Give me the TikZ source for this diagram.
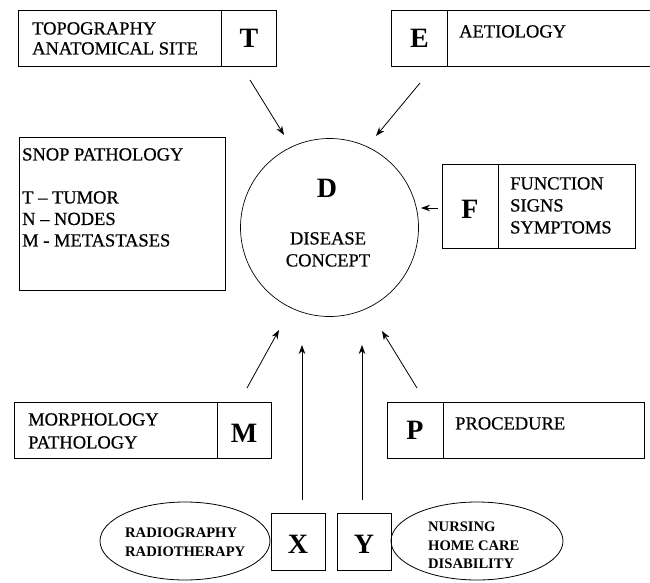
\documentclass[tikz,border=0pt]{standalone}
\usepackage{fontspec}
\setmainfont{Liberation Serif}
\newfontfamily\heavyserif{Liberation Serif}[FakeBold=0.6, Ligatures=TeX]
\usetikzlibrary{arrows.meta,shapes.geometric}

\begin{document}
\begin{tikzpicture}[x=1pt,y=-1pt,
  cell/.style={draw, line width=0.9pt, inner sep=0pt, anchor=north west},
  letter/.style={font=\fontsize{28}{28}\selectfont\bfseries, inner sep=0pt},
  lbl/.style={font=\heavyserif\fontsize{18.5}{20}\selectfont, align=left, inner sep=0pt, anchor=north west},
  elbl/.style={font=\fontsize{14.6}{18.5}\selectfont\bfseries, align=left, inner sep=0pt, anchor=north west},
  oval/.style={draw, ellipse, line width=0.8pt, inner sep=0pt},
  arr/.style={line width=0.8pt, -{Stealth[length=9pt,width=6.5pt]}}]
\useasboundingbox (0,0) rectangle (650,583);
\fill[white] (0,0) rectangle (650,583);

% central concept
\node[draw, circle, line width=0.7pt, minimum size=178pt, inner sep=0pt] (dc) at (329.5,227.5) {};
\node[letter] (dl) at (327,188) {D};
\node[font=\heavyserif\fontsize{18.5}{22}\selectfont, align=center, inner sep=0pt, anchor=north] (dt) at (328,232) {DISEASE\\CONCEPT};

% T: topography
\node[cell, minimum width=203pt, minimum height=56pt] (tbox) at (18,10) {};
\node[cell, minimum width=55pt, minimum height=56pt] (tcell) at (221,10) {};
\node[letter] (tl) at (tcell.center) {T};
\node[lbl] (tt) at (32,22) {TOPOGRAPHY\\ANATOMICAL SITE};

% E: aetiology
\node[cell, minimum width=56pt, minimum height=56pt] (ecell) at (391,10) {};
\node[cell, minimum width=206pt, minimum height=56pt] (ebox) at (447,10) {};
\node[letter] (el) at (ecell.center) {E};
\node[lbl] (et) at (459,25) {AETIOLOGY};

% SNOP pathology
\node[cell, minimum width=206pt, minimum height=153pt] (sbox) at (19,137) {};
\node[lbl, font=\heavyserif\fontsize{18.5}{21.5}\selectfont] (st) at (22,148) {SNOP PATHOLOGY\\[21.5pt]T – TUMOR\\N – NODES\\M - METASTASES};

% F: function
\node[cell, minimum width=56pt, minimum height=84pt] (fcell) at (442,164) {};
\node[cell, minimum width=137pt, minimum height=84pt] (fbox) at (498,164) {};
\node[letter] (fl) at (470,209) {F};
\node[lbl, font=\heavyserif\fontsize{18.5}{22}\selectfont] (ft) at (510,177) {FUNCTION\\SIGNS\\SYMPTOMS};

% M: morphology
\node[cell, minimum width=203pt, minimum height=56pt] (mbox) at (14,402) {};
\node[cell, minimum width=54pt, minimum height=56pt] (mcell) at (217,402) {};
\node[letter] (ml) at (244,433) {M};
\node[lbl, font=\heavyserif\fontsize{18.5}{23}\selectfont] (mt) at (28,413) {MORPHOLOGY\\PATHOLOGY};

% P: procedure
\node[cell, minimum width=56pt, minimum height=56pt] (pcell) at (387,402) {};
\node[cell, minimum width=201pt, minimum height=56pt] (pbox) at (443,402) {};
\node[letter] (pl) at (415,430) {P};
\node[lbl] (pt) at (455,417) {PROCEDURE};

% X and Y with their ellipses
\node[cell, minimum width=54pt, minimum height=57pt] (xcell) at (271,513) {};
\node[letter] (xl) at (298,544) {X};
\node[cell, minimum width=54pt, minimum height=57pt] (ycell) at (337,513) {};
\node[letter] (yl) at (364,544) {Y};
\node[oval, minimum width=170pt, minimum height=78pt] (xo) at (185,541) {};
\node[elbl] (xt) at (125,528) {RADIOGRAPHY\\RADIOTHERAPY};
\node[oval, minimum width=172pt, minimum height=78pt] (yo) at (477,541) {};
\node[elbl] (yt) at (428,522) {NURSING\\HOME CARE\\DISABILITY};

% arrow ends
\coordinate (ta0) at (250,80);  \coordinate (ta1) at (284,135);
\coordinate (ea0) at (420,83);  \coordinate (ea1) at (376,136);
\coordinate (fa0) at (438,208); \coordinate (fa1) at (421,208);
\coordinate (ma0) at (247,388); \coordinate (ma1) at (279,330);
\coordinate (pa0) at (417,388); \coordinate (pa1) at (382,331);
\coordinate (xa0) at (302,500); \coordinate (xa1) at (302,345);
\coordinate (ya0) at (362,500); \coordinate (ya1) at (362,345);

\draw[arr] (ta0) -- (ta1);
\draw[arr] (ea0) -- (ea1);
\draw[arr] (fa0) -- (fa1);
\draw[arr] (ma0) -- (ma1);
\draw[arr] (pa0) -- (pa1);
\draw[arr] (xa0) -- (xa1);
\draw[arr] (ya0) -- (ya1);
\end{tikzpicture}
\end{document}
